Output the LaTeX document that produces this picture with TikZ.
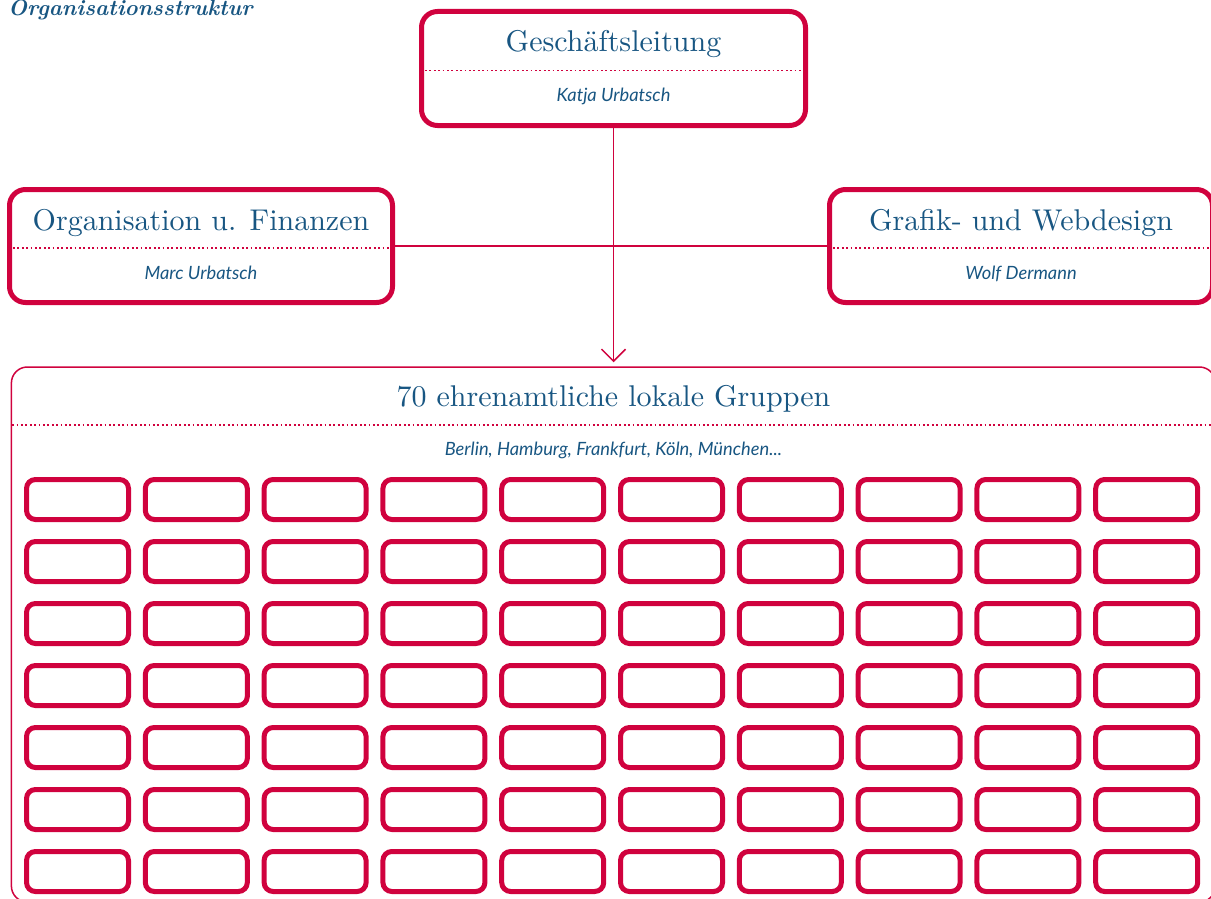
\documentclass[tikz,border=0pt]{standalone}
\usepackage{fontspec}
\newfontfamily\namefont{Lato}
\newfontfamily\headfont{lmroman10-regular.otf}
\newfontfamily\ttlfont{lmroman10-bolditalic.otf}
\usepackage{tikz}
\usetikzlibrary{positioning,calc,arrows.meta}

\definecolor{vbred}{RGB}{208,2,62}
\definecolor{vbblue}{RGB}{24,86,130}

\begin{document}
\begin{tikzpicture}[x=1pt, y=-1pt,
  dept/.style={draw=vbred, line width=5pt, rounded corners=16pt,
               minimum width=383pt, minimum height=113pt, inner sep=0pt},
  grp/.style={draw=vbred, line width=5pt, rounded corners=9pt,
              minimum width=102pt, minimum height=40pt, inner sep=0pt},
  bigbox/.style={draw=vbred, line width=1.5pt, rounded corners=16pt,
                 minimum width=1204pt, minimum height=535pt, inner sep=0pt},
  head/.style={text=vbblue, inner sep=0pt, anchor=base,
               font=\headfont\fontsize{30}{35}\selectfont},
  who/.style={text=vbblue, inner sep=0pt, anchor=base,
              font=\namefont\itshape\fontsize{18.3}{21}\selectfont},
  sep/.style={vbred, line width=1.8pt, dash pattern=on 1.8pt off 2.6pt},
  link/.style={vbred, line width=1.5pt},
]
\useasboundingbox (0,0) rectangle (1211,899);

% ---- heading ----
\node[text=vbblue, inner sep=0pt, anchor=base west,
      font=\ttlfont\fontsize{22.2}{26}\selectfont] (ttl) at (8,16)
  {Organisationsstruktur};

% ---- management and departments ----
\node[dept, minimum width=384pt, minimum height=114pt] (gl) at (613.5,68.5) {};
\node[dept] (ofin) at (201,246) {};
\node[dept] (graf) at (1021,246) {};

\node[head] (glT) at ($(gl.north)+(0,43)$) {Geschäftsleitung};
\node[who]  (glN) at ($(gl.north)+(0,93)$) {Katja Urbatsch};
\draw[sep] ($(gl.north west)+(6,61.5)$) -- ($(gl.north east)+(-6,61.5)$);

\foreach \d/\t/\n in {ofin/Organisation u. Finanzen/Marc Urbatsch,
                      graf/Grafik- und Webdesign/Wolf Dermann} {
  \node[head] (\d T) at ($(\d.north)+(0,43)$) {\t};
  \node[who]  (\d N) at ($(\d.north)+(0,92)$) {\n};
  \draw[sep] ($(\d.north west)+(6,61)$) -- ($(\d.north east)+(-6,61)$);
}

% ---- local groups ----
\node[bigbox] (big) at (613.4,634.5) {};
\node[head] (bigT) at ($(big.north)+(0,40)$) {70 ehrenamtliche lokale Gruppen};
\node[who]  (bigN) at ($(big.north)+(0,89)$) {Berlin, Hamburg, Frankfurt, Köln, München...};
\draw[sep] ($(big.north west)+(1.5,59)$) -- ($(big.north east)+(-1.5,59)$);

\foreach \c in {0,...,9}
  \foreach \r in {0,...,6}
    \node[grp] (g\c\r) at (77.5+118.8*\c, 499.5+62*\r) {};

% ---- connectors ----
\draw[link] (ofin.east) -- (graf.west);
\draw[link, -{Straight Barb[length=12pt, width=24pt]}, shorten >=4pt]
  (gl.south) -- (gl.south |- big.north);

\end{tikzpicture}
\end{document}
